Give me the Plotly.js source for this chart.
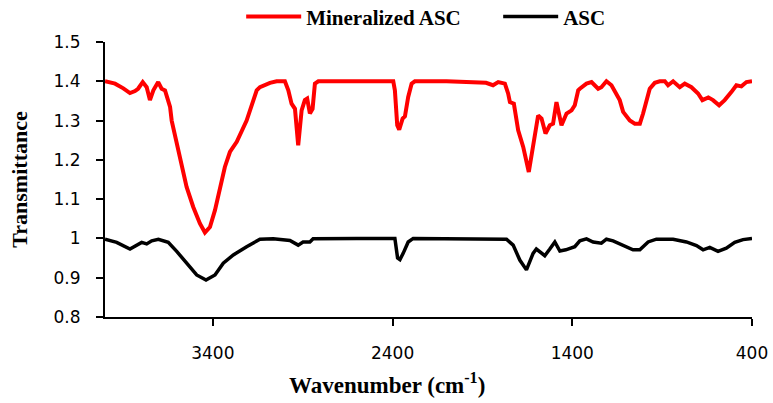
<!DOCTYPE html>
<html>
<head>
<meta charset="utf-8">
<script src="https://cdn.plot.ly/plotly-3.0.1.min.js"></script>
<style>html,body{margin:0;padding:0;background:#fff;}#chart{width:773px;height:403px;}</style>
</head>
<body>
<div id="chart"></div>
<script>
// Mineralized ASC (red)
const redWavenumber = [4000, 3944, 3898, 3861, 3833, 3816, 3790, 3768, 3750, 3731, 3704, 3685, 3666, 3638, 3629, 3601, 3573, 3546, 3509, 3472, 3444, 3416, 3388, 3360, 3333, 3305, 3267, 3212, 3156, 3138, 3082, 3045, 2999, 2980, 2962, 2943, 2925, 2906, 2888, 2875, 2860, 2845, 2832, 2813, 2600, 2396, 2387, 2374, 2363, 2344, 2331, 2313, 2294, 2276, 2100, 1900, 1880, 1841, 1812, 1775, 1757, 1747, 1725, 1701, 1673, 1642, 1618, 1590, 1571, 1549, 1525, 1507, 1488, 1460, 1432, 1404, 1386, 1367, 1358, 1321, 1293, 1256, 1238, 1210, 1182, 1155, 1136, 1117, 1080, 1052, 1024, 1006, 987, 969, 941, 913, 885, 867, 839, 802, 774, 737, 700, 676, 643, 617, 583, 552, 514, 487, 459, 431, 400];
const redValues = [1.400, 1.394, 1.382, 1.370, 1.375, 1.381, 1.398, 1.385, 1.352, 1.377, 1.398, 1.381, 1.377, 1.335, 1.300, 1.241, 1.182, 1.131, 1.080, 1.038, 1.015, 1.029, 1.072, 1.131, 1.182, 1.220, 1.246, 1.300, 1.377, 1.385, 1.396, 1.400, 1.400, 1.377, 1.343, 1.330, 1.237, 1.326, 1.352, 1.356, 1.318, 1.330, 1.394, 1.400, 1.400, 1.400, 1.377, 1.288, 1.277, 1.305, 1.311, 1.360, 1.394, 1.400, 1.400, 1.398, 1.396, 1.390, 1.398, 1.394, 1.369, 1.347, 1.343, 1.275, 1.233, 1.169, 1.241, 1.313, 1.305, 1.267, 1.288, 1.292, 1.347, 1.288, 1.318, 1.326, 1.339, 1.377, 1.381, 1.394, 1.398, 1.381, 1.385, 1.400, 1.390, 1.369, 1.352, 1.322, 1.300, 1.292, 1.292, 1.318, 1.352, 1.381, 1.396, 1.400, 1.400, 1.390, 1.400, 1.385, 1.394, 1.385, 1.369, 1.352, 1.359, 1.352, 1.339, 1.352, 1.373, 1.390, 1.387, 1.398, 1.400];

// ASC (black)
const blackWavenumber = [4000, 3935, 3861, 3824, 3796, 3768, 3740, 3703, 3675, 3648, 3601, 3546, 3490, 3438, 3388, 3342, 3286, 3212, 3138, 3064, 2971, 2925, 2898, 2860, 2842, 2600, 2387, 2372, 2359, 2341, 2313, 2285, 2000, 1766, 1729, 1692, 1655, 1618, 1600, 1553, 1525, 1497, 1469, 1436, 1386, 1358, 1321, 1284, 1238, 1210, 1173, 1117, 1062, 1024, 978, 932, 876, 839, 765, 709, 672, 635, 589, 543, 496, 450, 400];
const blackValues = [0.998, 0.990, 0.973, 0.982, 0.990, 0.986, 0.994, 0.998, 0.994, 0.990, 0.967, 0.937, 0.907, 0.894, 0.907, 0.937, 0.958, 0.979, 0.998, 0.999, 0.995, 0.983, 0.991, 0.991, 0.999, 1.000, 1.000, 0.950, 0.946, 0.962, 0.991, 1.000, 1.000, 0.998, 0.983, 0.945, 0.920, 0.962, 0.973, 0.956, 0.973, 0.991, 0.968, 0.971, 0.979, 0.994, 0.999, 0.991, 0.988, 0.998, 0.994, 0.982, 0.971, 0.971, 0.991, 0.998, 0.997, 0.998, 0.991, 0.982, 0.971, 0.977, 0.967, 0.975, 0.990, 0.997, 1.000];

const seriesNames = ['Mineralized ASC', 'ASC'];
const xTickVals = [3400, 2400, 1400, 400];
const yTickVals = [0.8, 0.9, 1.0, 1.1, 1.2, 1.3, 1.4, 1.5];
const yTickText = ['0.8', '0.9', '1', '1.1', '1.2', '1.3', '1.4', '1.5'];

const traces = [
  {x: redWavenumber, y: redValues, name: seriesNames[0], type: 'scatter', mode: 'lines',
   line: {color: '#ff0000', width: 4}},
  {x: blackWavenumber, y: blackValues, name: seriesNames[1], type: 'scatter', mode: 'lines',
   line: {color: '#000000', width: 3.5}}
];

const tickFont = {family: 'DejaVu Sans', size: 17, color: '#000'};
const titleFont = {family: 'Liberation Serif', size: 22, color: '#000', weight: 'bold'};

const layout = {
  width: 773, height: 403,
  margin: {l: 105, r: 21, t: 42, b: 86, autoexpand: false},
  paper_bgcolor: '#fff', plot_bgcolor: '#fff',
  showlegend: true,
  legend: {
    orientation: 'h', xref: 'container', yref: 'container',
    x: 0.312, xanchor: 'left', y: 0.958, yanchor: 'middle',
    font: {family: 'Liberation Serif', size: 21, color: '#000', weight: 'bold'},
    itemwidth: 55, entrywidth: 187, entrywidthmode: 'pixels', bgcolor: 'rgba(0,0,0,0)'
  },
  xaxis: {
    range: [4000, 400], autorange: false,
    tickmode: 'array', tickvals: xTickVals,
    ticks: 'outside', ticklen: 7, tickwidth: 2, tickcolor: '#000',
    showline: true, linewidth: 2, linecolor: '#000',
    showgrid: false, zeroline: false, tickfont: tickFont,
    ticklabelstandoff: 13
  },
  yaxis: {
    range: [0.8, 1.5], autorange: false,
    tickmode: 'array', tickvals: yTickVals, ticktext: yTickText,
    ticks: 'outside', ticklen: 7, tickwidth: 2, tickcolor: '#000',
    showline: true, linewidth: 2, linecolor: '#000',
    showgrid: false, zeroline: false, tickfont: tickFont,
    ticklabelstandoff: 12,
    title: {text: 'Transmittance', font: titleFont, standoff: 20}
  },
  annotations: [{
    xref: 'paper', yref: 'paper', x: 0.436, y: -0.24, xanchor: 'center', yanchor: 'middle',
    showarrow: false, text: 'Wavenumber (cm<sup>-1</sup>)',
    font: {family: 'Liberation Serif', size: 23, color: '#000', weight: 'bold'}
  }]
};

Plotly.newPlot('chart', traces, layout, {staticPlot: true, displayModeBar: false});
</script>
</body>
</html>
